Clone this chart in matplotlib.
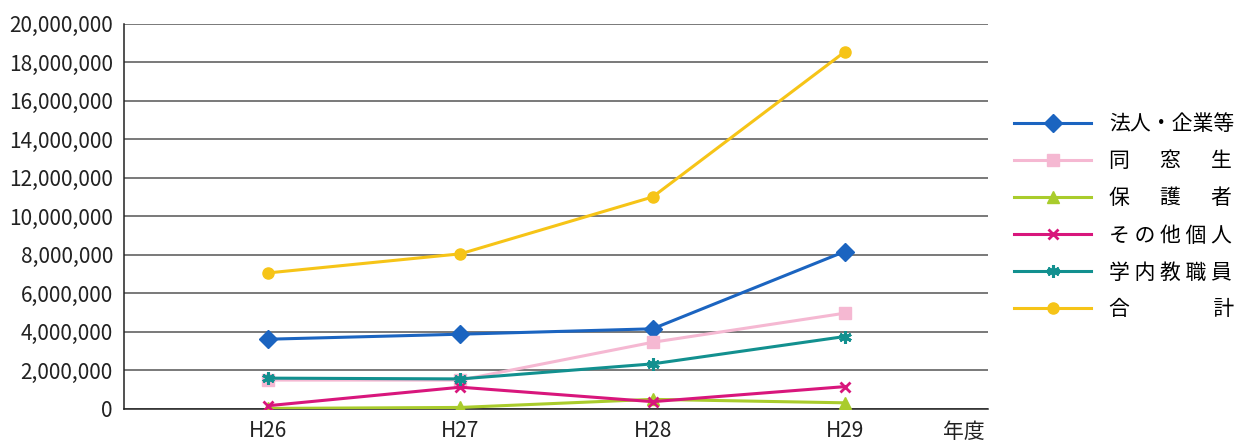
import matplotlib
matplotlib.use("Agg")
import matplotlib.pyplot as plt
from matplotlib.ticker import FuncFormatter, MultipleLocator

plt.rcParams['font.family'] = ['Noto Sans CJK JP', 'DejaVu Sans']

years = ["H26", "H27", "H28", "H29"]
corporate = [3620000, 3880000, 4160000, 8170000]
alumni = [1500000, 1500000, 3460000, 4970000]
parents = [30000, 80000, 500000, 320000]
other_individuals = [170000, 1130000, 380000, 1160000]
staff = [1600000, 1560000, 2340000, 3760000]
total = [7060000, 8050000, 11000000, 18530000]

labels = ["法人・企業等", "同\u3000  窓\u3000  生", "保\u3000  護\u3000  者",
          "そ の 他 個 人", "学 内 教 職 員", "合\u3000\u3000\u3000\u3000計"]

series = [corporate, alumni, parents, other_individuals, staff, total]
colors = ["#1b64c0", "#f5b8d2", "#a9cc2c", "#d8167c", "#12908f", "#f6c417"]
markers = ["D", "s", "^", "x", (6, 2, 0), "o"]
msizes = [9, 8, 9, 7, 9, 8]
mews = [1, 1, 1, 2, 2.2, 1]

fig = plt.figure(figsize=(12.39, 4.41), dpi=100)
ax = fig.add_axes([0.1001, 0.0726, 0.6973, 0.8741])

x = list(range(len(years)))
handles = []
for vals, c, m, ms, mew, lab in zip(series, colors, markers, msizes, mews, labels):
    h, = ax.plot(x, vals, color=c, marker=m, markersize=ms, linewidth=2.2,
                 markeredgewidth=mew, markeredgecolor=c, markerfacecolor=c,
                 label=lab, zorder=3)
    handles.append(h)

ax.set_xlim(-0.75, 3.745)
ax.set_ylim(0, 20000000)
ax.yaxis.set_major_locator(MultipleLocator(2000000))
ax.yaxis.set_major_formatter(FuncFormatter(lambda v, p: f"{int(v):,}"))
ax.set_xticks(x)
ax.set_xticklabels(years)
ax.tick_params(axis='both', length=0, labelsize=15, colors="#222222")
ax.tick_params(axis='y', pad=8)
ax.tick_params(axis='x', pad=8)
ax.grid(axis='y', color="#555555", linewidth=1.1)
ax.set_axisbelow(True)
for s in ["top", "right"]:
    ax.spines[s].set_visible(False)
ax.spines["left"].set_color("#222222")
ax.spines["bottom"].set_color("#222222")
ax.spines["left"].set_linewidth(1.1)
ax.spines["bottom"].set_linewidth(1.1)

ax.text(0.972, -0.06, "年度", transform=ax.transAxes, fontsize=15,
        ha='center', va='center', color="#222222")

fig.legend(handles=handles, labels=labels, loc='center left',
           bbox_to_anchor=(0.812, 0.508), frameon=False, fontsize=15,
           handlelength=3.7, handletextpad=0.85, labelspacing=0.72,
           borderaxespad=0)

fig.savefig("out.png", dpi=100)
